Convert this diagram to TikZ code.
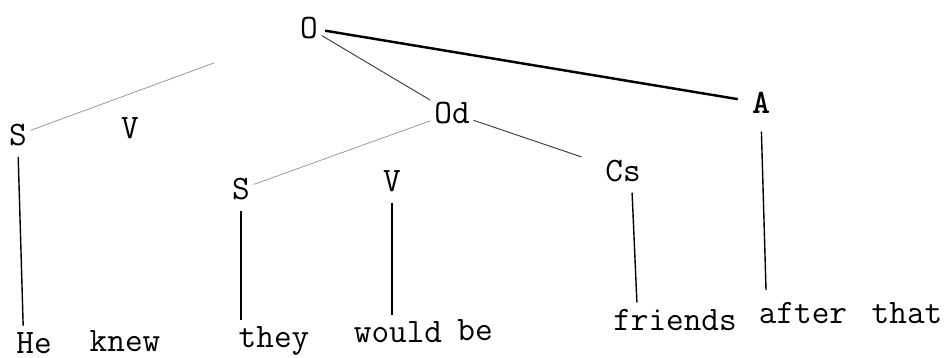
\documentclass[tikz,border=0pt]{standalone}
\usetikzlibrary{positioning,calc}

\begin{document}
\begin{tikzpicture}[
    x=0.02cm, y=-0.02cm,
    lab/.style={font=\ttfamily\fontsize{19.5}{22}\selectfont, inner sep=2pt},
    boldlab/.style={font=\ttfamily\bfseries\fontsize{19.5}{22}\selectfont, inner sep=2pt},
    word/.style={font=\ttfamily\fontsize{19.5}{22}\selectfont, inner sep=1.5pt, anchor=base},
    stem/.style={line width=0.8pt, shorten <=4pt, shorten >=2pt},
    main/.style={line width=1.4pt, shorten <=2pt, shorten >=6pt},
    branch/.style={line width=0.55pt, black!75},
    faint/.style={line width=0.45pt, black!40}
]
    \useasboundingbox (0,0) rectangle (950,358);

    % Function labels
    \node[lab] (O) at (309,28) {O};
    \node[boldlab] (A) at (761,103) {A};
    \node[lab] (Od) at (452,113) {Od};
    \node[lab] (Cs) at (623,171) {Cs};
    \node[lab] (S1) at (18,135) {S};
    \node[lab] (V1) at (130,128) {V};
    \node[lab] (S2) at (241,189) {S};
    \node[lab] (V2) at (392,181) {V};

    % Words (the typed line drifts upward to the right)
    \node[word] (He) at (34,353) {He};
    \node[word] (knew) at (125,351) {knew};
    \node[word] (they) at (274,347) {they};
    \node[word] (would) at (398,342) {would};
    \node[word] (be) at (475,340) {be};
    \node[word] (friends) at (675,330) {friends};
    \node[word] (after) at (803,323) {after};
    \node[word] (that) at (907,323) {that};

    % Branches
    \draw[main] (O) -- (A);
    \draw[branch] (O) -- (Od);
    \draw[faint, shorten >=50pt] (S1) -- (O);
    \draw[faint] (Od) -- (S2);
    \draw[branch, shorten >=12pt] (Od) -- (Cs);

    % Stems down to the words
    \draw[stem] (S1.south) -- ([xshift=3pt]S1.south |- He.north);
    \draw[stem] (S2.south) -- (S2.south |- they.north);
    \draw[stem] (V2.south) -- (V2.south |- would.north);
    \draw[stem] ([xshift=5pt]Cs.south) -- ([xshift=8pt]Cs.south |- friends.north);
    \draw[stem, shorten <=8pt, shorten >=5pt] (A.south) -- ([xshift=3pt]A.south |- after.north);
\end{tikzpicture}
\end{document}
